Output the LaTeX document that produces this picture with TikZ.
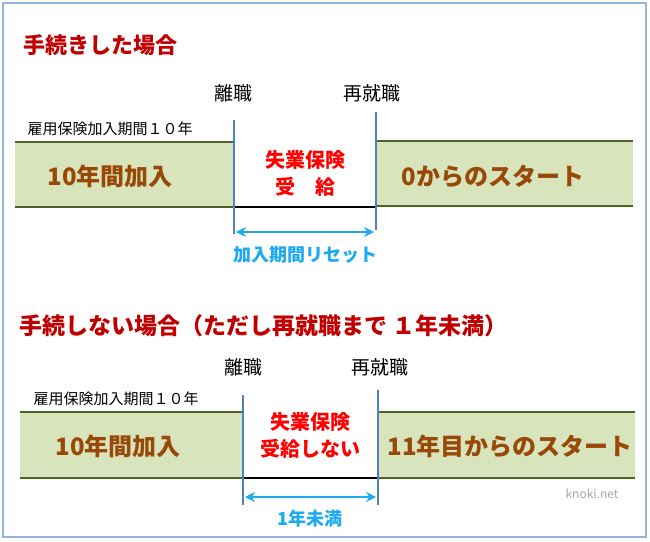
\documentclass[tikz,border=0pt]{standalone}
\usepackage{fontspec}
\setmainfont{Noto Sans CJK JP}
\usetikzlibrary{arrows.meta}
\definecolor{barfill}{HTML}{D8E4BC}
\definecolor{barcol}{HTML}{4F6228}
\definecolor{vline}{HTML}{4F81BD}
\definecolor{brownt}{HTML}{984807}
\definecolor{redt}{HTML}{C00000}
\definecolor{cyant}{HTML}{1EAAF0}
\tikzset{
 bar/.style={fill=barfill,draw=none},
 edge/.style={draw=barcol,line width=2.5pt},
 vl/.style={draw=vline,line width=2pt},
 big/.style={font=\fontsize{24}{26}\selectfont\bfseries,text=brownt},
 mid/.style={font=\fontsize{20}{27}\selectfont\bfseries,text=red,align=center},
 lab/.style={font=\fontsize{19}{21}\selectfont},
 small/.style={font=\fontsize{15}{17}\selectfont},
 ttl/.style={font=\fontsize{22}{24}\selectfont\bfseries,text=redt,anchor=west},
 dim/.style={{Stealth[length=10pt,width=10pt]}-{Stealth[length=10pt,width=10pt]},draw=cyant,line width=2.5pt},
 dimt/.style={font=\fontsize{18}{20}\selectfont\bfseries,text=cyant}
}
\begin{document}
\begin{tikzpicture}[x=1pt,y=-1pt]
\useasboundingbox (0,0) rectangle (650,541);
\draw[vline!60,line width=1.2pt] (3,3) rectangle (646,537);
% top panel
\node[ttl] (t1) at (20,45) {手続きした場合};
\fill[bar] (15,142) rectangle (234,207);
\fill[bar] (376,141) rectangle (633,206);
\draw[edge] (15,142) -- (234,142) (15,207) -- (234,207);
\draw[edge] (376,141) -- (633,141) (376,206) -- (633,206);
\draw[black,line width=2pt] (234,207) -- (376,207);
\draw[vl] (234,120) -- (234,234);
\draw[vl] (376,112) -- (376,230);
\node[lab] (r1) at (233,93) {離職};
\node[lab] (s1) at (372,93) {再就職};
\node[small,anchor=west] (k1) at (24,129) {雇用保険加入期間１０年};
\node[big] (a1) at (110,176) {10年間加入};
\node[mid] (m1) at (305,173) {失業保険\\受　給};
\node[big] (b1) at (493,176) {0からのスタート};
\coordinate (p1) at (236,232); \coordinate (q1) at (374,232);
\draw[dim] (p1) -- (q1);
\node[dimt] (d1) at (305,255) {加入期間リセット};
% bottom panel
\node[ttl,font=\fontsize{23}{25}\selectfont\bfseries] (t2) at (16,326) {手続しない場合（ただし再就職まで １年未満）};
\fill[bar] (20,412) rectangle (243,478);
\fill[bar] (378,412) rectangle (635,478);
\draw[edge] (20,412) -- (243,412) (20,478) -- (243,478);
\draw[edge] (378,412) -- (635,412) (378,478) -- (635,478);
\draw[black,line width=2pt] (243,478) -- (378,478);
\draw[vl] (243,395) -- (243,505);
\draw[vl] (378,390) -- (378,505);
\node[lab] (r2) at (243,367) {離職};
\node[lab] (s2) at (380,367) {再就職};
\node[small,anchor=west] (k2) at (30,399) {雇用保険加入期間１０年};
\node[big] (a2) at (118,446) {10年間加入};
\node[mid] (m2) at (310,435) {失業保険\\受給しない};
\node[big] (b2) at (510,446) {11年目からのスタート};
\coordinate (p2) at (245,497); \coordinate (q2) at (376,497);
\draw[dim] (p2) -- (q2);
\node[dimt] (d2) at (310,519) {1年未満};
\node[font=\fontsize{12}{14}\selectfont\itshape,text=gray!70] (w) at (592,494) {knoki.net};
\end{tikzpicture}
\end{document}
